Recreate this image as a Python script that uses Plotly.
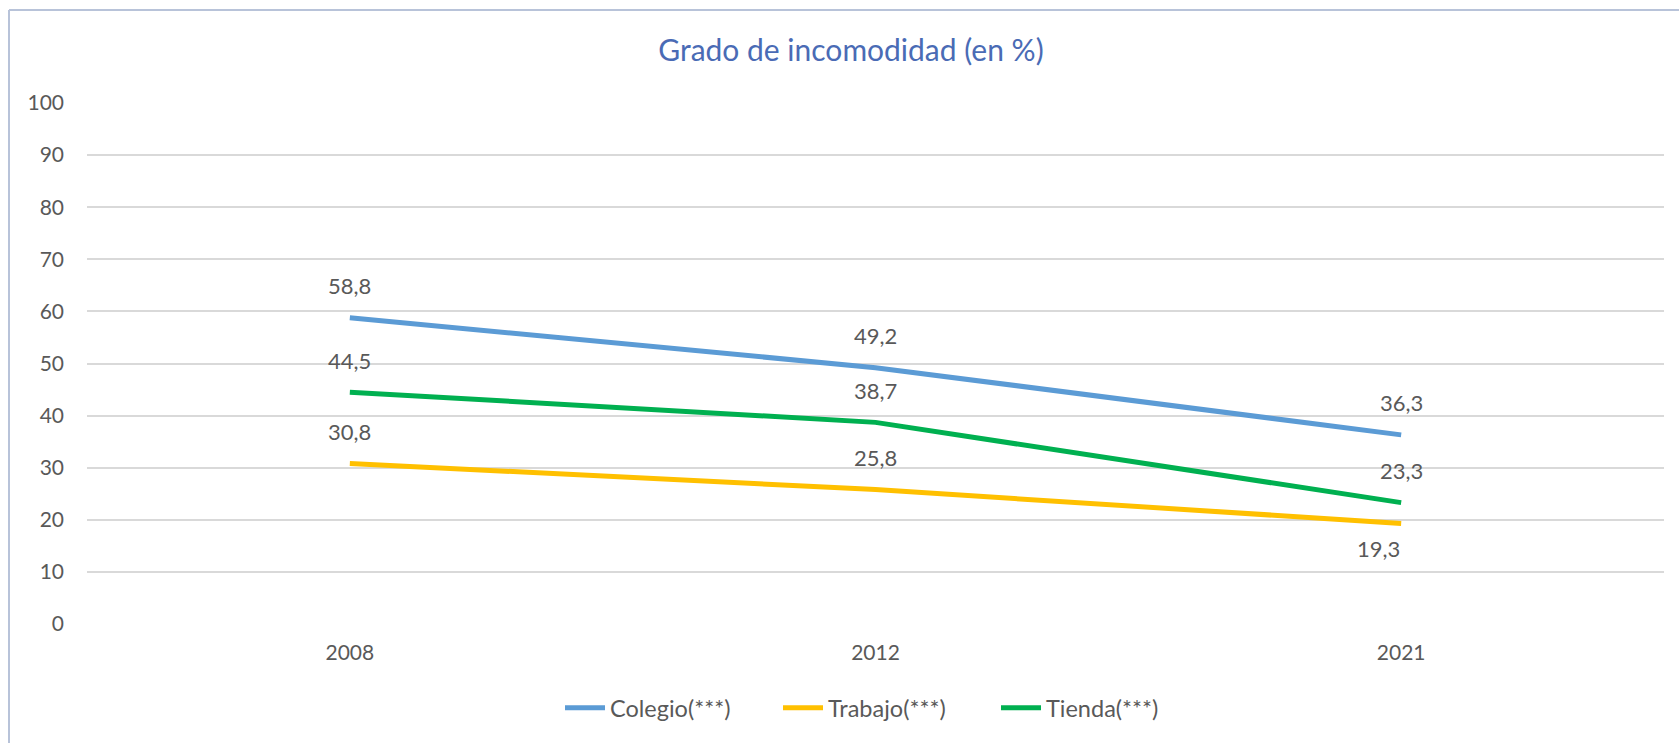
import plotly.graph_objects as go

# ---- data ----
years = ["2008", "2012", "2021"]
colegio = [58.8, 49.2, 36.3]
trabajo = [30.8, 25.8, 19.3]
tienda = [44.5, 38.7, 23.3]
series_names = ["Colegio(***)", "Trabajo(***)", "Tienda(***)"]
y_ticks = [0, 10, 20, 30, 40, 50, 60, 70, 80, 90, 100]
title_text = "Grado de incomodidad (en %)"

# ---- style ----
W, H = 1679, 743
M_L, M_R, M_T, M_B = 87, 15, 103, 119
colors = ["#5B9BD5", "#FFC000", "#00B050"]
FONT = "Lato"
TXT = "#595959"

fig = go.Figure()
x_idx = list(range(len(years)))
all_series = [colegio, trabajo, tienda]
for name, vals, col in zip(series_names, all_series, colors):
    fig.add_trace(go.Scatter(
        x=x_idx, y=vals, mode="lines", name=name,
        line=dict(color=col, width=5),
    ))

# data labels (Excel-style: above, except last Trabajo point below-left)
special = {(1, 2): dict(yshift=-25, xshift=-23)}
for si, vals in enumerate(all_series):
    for i, v in enumerate(vals):
        sh = special.get((si, i), dict(yshift=32, xshift=0))
        fig.add_annotation(
            x=i, y=v, text=f"{v:.1f}".replace(".", ","),
            showarrow=False, xshift=sh["xshift"], yshift=sh["yshift"],
            font=dict(family=FONT, size=22, color=TXT),
            xanchor="center", yanchor="middle",
        )

# outer chart frame (left and top edges)
pw = W - M_L - M_R
ph = H - M_T - M_B
fx = (9 - M_L) / pw
fy = (H - M_B - 10) / ph
frame_col = "#B8C3D9"
fig.add_shape(type="line", xref="paper", yref="paper", x0=fx, x1=fx, y0=fy, y1=-1,
              line=dict(color=frame_col, width=2))
fig.add_shape(type="line", xref="paper", yref="paper", x0=fx, x1=2, y0=fy, y1=fy,
              line=dict(color=frame_col, width=2))

fig.update_layout(
    width=W, height=H,
    margin=dict(l=M_L, r=M_R, t=M_T, b=M_B),
    paper_bgcolor="white", plot_bgcolor="white",
    title=dict(text=title_text, x=851 / W, xref="container", xanchor="center",
               y=1 - 50 / H, yref="container", yanchor="middle",
               font=dict(family=FONT, size=30, color="#4A6BB5")),
    xaxis=dict(
        range=[-0.5, len(years) - 0.5], tickmode="array", tickvals=x_idx, ticktext=years,
        showgrid=False, zeroline=False, showline=False,
        tickfont=dict(family=FONT, size=21, color=TXT), ticklabelstandoff=14,
    ),
    yaxis=dict(
        range=[0, 100], tickmode="array", tickvals=y_ticks,
        showgrid=True, gridcolor="#D9D9D9", gridwidth=1.5, zeroline=False, showline=False,
        tickfont=dict(family=FONT, size=21, color=TXT), ticklabelstandoff=22,
    ),
    showlegend=True,
    legend=dict(orientation="h", xref="container", yref="container",
                x=560 / W, xanchor="left", y=1 - 708 / H, yanchor="middle",
                font=dict(family=FONT, size=23.5, color=TXT),
                entrywidth=163, itemwidth=40,
                bgcolor="rgba(0,0,0,0)"),
)

fig.write_html("out.html", config={"displayModeBar": False},
               post_script="document.body.style.margin='0';")
